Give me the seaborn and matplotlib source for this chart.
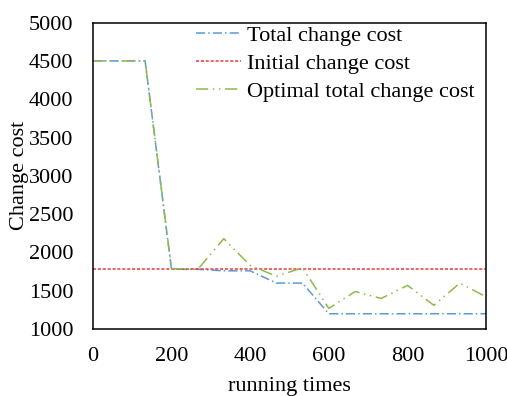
import matplotlib
matplotlib.use("Agg")
import matplotlib.pyplot as plt
import seaborn as sns
import pandas as pd

runs = [0, 67, 133, 200, 267, 333, 400, 467, 533, 600, 667, 733, 800, 867, 933, 1000]
total_cost = [4500, 4500, 4500, 1780, 1780, 1760, 1760, 1600, 1600, 1200,
              1200, 1200, 1200, 1200, 1200, 1200]
initial_cost = [1790] * len(runs)
optimal_cost = [4500, 4500, 4500, 1790, 1780, 2180, 1830, 1690, 1800, 1270,
                1490, 1400, 1570, 1310, 1600, 1420]

sns.set_theme(style="white")
plt.rcParams["font.family"] = ["Liberation Serif", "DejaVu Serif"]

fig = plt.figure(figsize=(5.07, 3.96), dpi=100)
ax = fig.add_axes([0.183, 0.169, 0.776, 0.774])

styles = [
    ("Total change cost", total_cost, "#5B9BD5", (6, 2, 1, 2)),
    ("Initial change cost", initial_cost, "#E8393A", (2, 1.2)),
    ("Optimal total change cost", optimal_cost, "#8FB94B", (8, 3, 1, 3, 1, 3)),
]
for name, vals, col, dash in styles:
    df = pd.DataFrame({"runs": runs, "cost": vals})
    sns.lineplot(data=df, x="runs", y="cost", ax=ax, color=col, label=name,
                 linewidth=1.1)
    ax.lines[-1].set_dashes(dash)

fs = 16
ax.set_xlim(0, 1000)
ax.set_ylim(1000, 5000)
ax.set_xticks(range(0, 1001, 200))
ax.set_yticks(range(1000, 5001, 500))
ax.tick_params(direction="in", length=4, width=1, labelsize=fs, color="black",
               labelcolor="black")
ax.tick_params(axis="y", pad=14)
ax.tick_params(axis="x", pad=13)
for s in ax.spines.values():
    s.set_color("black")
    s.set_linewidth(1.1)
ax.set_xlabel("running times", fontsize=fs, color="black", labelpad=8)
ax.set_ylabel("Change cost", fontsize=fs, color="black", labelpad=0)

leg = ax.legend(loc="upper right", bbox_to_anchor=(1.005, 1.035), frameon=False,
                fontsize=fs, handlelength=2.0, handletextpad=0.3,
                labelspacing=0.33, borderaxespad=0.2)
for t in leg.get_texts():
    t.set_color("black")

fig.savefig("out.png", dpi=100)
